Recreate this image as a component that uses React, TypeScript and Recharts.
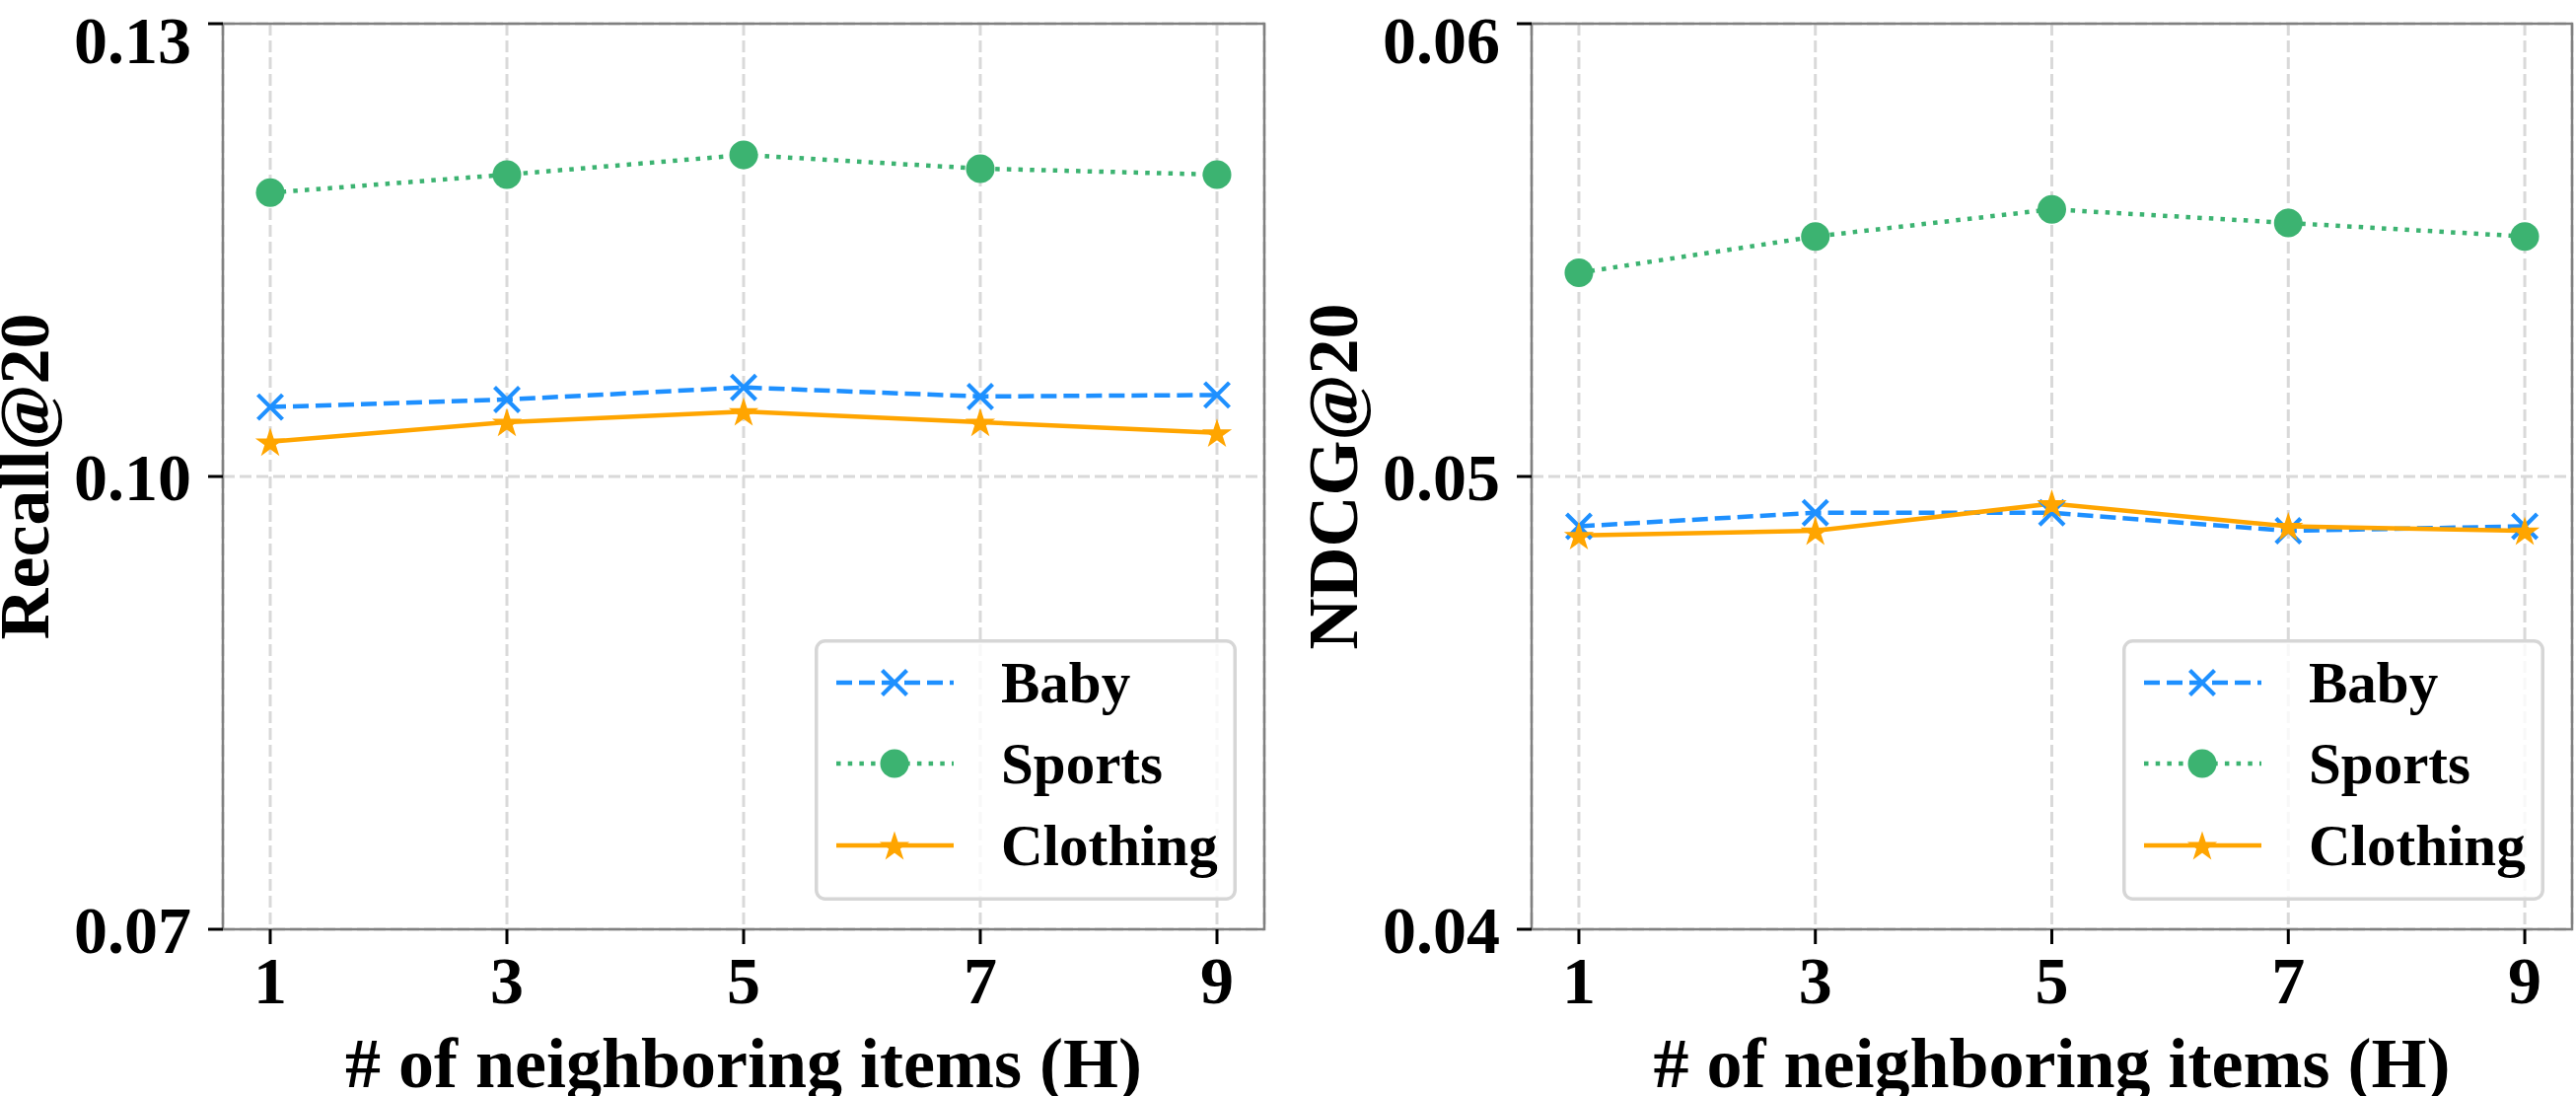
import { CartesianGrid, Legend, Line, LineChart, ReferenceArea, XAxis, YAxis } from 'recharts';

// neighbour count H on the x axis
const H_VALUES = [1, 3, 5, 7, 9];
const X_TICKS = [1, 3, 5, 7, 9];

const RECALL_BABY = [0.1046, 0.1051, 0.1059, 0.1053, 0.1054];
const RECALL_SPORTS = [0.1188, 0.12, 0.1213, 0.1204, 0.12];
const RECALL_CLOTHING = [0.1023, 0.1036, 0.1043, 0.1036, 0.1029];
const RECALL_TICKS = [0.07, 0.1, 0.13];

const NDCG_BABY = [0.0489, 0.0492, 0.0492, 0.0488, 0.0489];
const NDCG_SPORTS = [0.0545, 0.0553, 0.0559, 0.0556, 0.0553];
const NDCG_CLOTHING = [0.0487, 0.0488, 0.0494, 0.0489, 0.0488];
const NDCG_TICKS = [0.04, 0.05, 0.06];

const FONT = '"Liberation Serif", "Times New Roman", serif';
const BLUE = '#1E90FF';
const GREEN = '#3CB371';
const ORANGE = '#FFA500';
const SPINE = '#808080';
const LINE_W = 4.5;

const recallData = H_VALUES.map((h, i) => ({
  h,
  baby: RECALL_BABY[i],
  sports: RECALL_SPORTS[i],
  clothing: RECALL_CLOTHING[i]
}));

const ndcgData = H_VALUES.map((h, i) => ({
  h,
  baby: NDCG_BABY[i],
  sports: NDCG_SPORTS[i],
  clothing: NDCG_CLOTHING[i]
}));

const starPath = (cx: number, cy: number, R: number) => {
  const r = R * 0.382;
  let d = '';
  for (let i = 0; i < 10; i++) {
    const a = ((-90 + i * 36) * Math.PI) / 180;
    const rad = i % 2 === 0 ? R : r;
    d += `${i === 0 ? 'M' : 'L'}${cx + rad * Math.cos(a)},${cy + rad * Math.sin(a)}`;
  }
  return d + 'Z';
};

const crossPath = (cx: number, cy: number, s: number) =>
  `M${cx - s},${cy - s}L${cx + s},${cy + s}M${cx - s},${cy + s}L${cx + s},${cy - s}`;

// marker shapes
const CrossDot = (props: any) => (
  <path key={`x-${props.index}`} d={crossPath(props.cx, props.cy, 12.5)} stroke={BLUE} strokeWidth={4.2} fill="none" />
);
const CircleDot = (props: any) => (
  <circle key={`o-${props.index}`} cx={props.cx} cy={props.cy} r={14.5} fill={GREEN} />
);
const StarDot = (props: any) => (
  <path key={`s-${props.index}`} d={starPath(props.cx, props.cy + 1.5, 13.5)} fill={ORANGE} stroke={ORANGE} strokeWidth={1.5} />
);

const SERIES = [
  { key: 'baby', name: 'Baby', color: BLUE, dash: '16 7' },
  { key: 'sports', name: 'Sports', color: GREEN, dash: '4.5 7.2' },
  { key: 'clothing', name: 'Clothing', color: ORANGE, dash: undefined }
];

const LegendBox = () => {
  const rows = [44, 126, 209];
  return (
    <svg width={428} height={265} style={{ display: 'block' }}>
      <rect x={1.75} y={1.75} width={424.5} height={261.5} rx={9} fill="rgba(255,255,255,0.8)" stroke="#d6d6d6" strokeWidth={3.5} />
      {SERIES.map((s, i) => {
        const y = rows[i];
        return (
          <g key={s.key}>
            <line x1={22} x2={141} y1={y} y2={y} stroke={s.color} strokeWidth={LINE_W} strokeDasharray={s.dash} />
            {s.key === 'baby' && <path d={crossPath(81, y, 12.5)} stroke={BLUE} strokeWidth={4.2} fill="none" />}
            {s.key === 'sports' && <circle cx={81} cy={y} r={14.5} fill={GREEN} />}
            {s.key === 'clothing' && <path d={starPath(81, y + 1.5, 13.5)} fill={ORANGE} stroke={ORANGE} strokeWidth={1.5} />}
            <text x={189} y={y + 20} fontFamily={FONT} fontWeight={700} fontSize={59} fill="#000">
              {s.name}
            </text>
          </g>
        );
      })}
    </svg>
  );
};

interface PanelProps {
  data: { h: number; baby: number; sports: number; clothing: number }[];
  yTicks: number[];
  yLabel: string;
  plotLeft: number;
  rightMargin: number;
}

function Panel({ data, yTicks, yLabel, plotLeft, rightMargin }: PanelProps) {
  const width = 1306;
  const plotRight = width - rightMargin;
  const yMin = yTicks[0];
  const yMax = yTicks[yTicks.length - 1];
  const tickStyle = { fill: '#000', fontSize: 68, fontWeight: 700, fontFamily: FONT };

  return (
    <LineChart width={width} height={1111} data={data} margin={{ top: 24, right: rightMargin, bottom: 0, left: 0 }}>
      <CartesianGrid stroke="#d9d9d9" strokeWidth={3} strokeDasharray="12 5" />
      <XAxis
        dataKey="h"
        type="number"
        domain={[0.6, 9.4]}
        ticks={X_TICKS}
        height={169}
        axisLine={false}
        tickLine={{ stroke: '#000', strokeWidth: 3 }}
        tickSize={15}
        tickMargin={12}
        tick={tickStyle}
        label={{
          content: ({ viewBox }: any) => (
            <text
              x={viewBox.x + viewBox.width / 2}
              y={viewBox.y + 160}
              textAnchor="middle"
              fontFamily={FONT}
              fontWeight={700}
              fontSize={72}
              fill="#000"
            >
              # of neighboring items (H)
            </text>
          )
        }}
      />
      <YAxis
        type="number"
        domain={[yMin, yMax]}
        ticks={yTicks}
        width={plotLeft}
        axisLine={false}
        tickLine={{ stroke: '#000', strokeWidth: 3 }}
        tickSize={15}
        tickMargin={17}
        tick={tickStyle}
        tickFormatter={(v: number) => v.toFixed(2)}
        label={{
          content: ({ viewBox }: any) => {
            const x = viewBox.x + viewBox.width - 177;
            const y = viewBox.y + viewBox.height / 2;
            return (
              <text
                x={x}
                y={y}
                transform={`rotate(-90 ${x} ${y})`}
                textAnchor="middle"
                fontFamily={FONT}
                fontWeight={700}
                fontSize={72}
                fill="#000"
              >
                {yLabel}
              </text>
            );
          }
        }}
      />
      <ReferenceArea x1={0.6} x2={9.4} y1={yMin} y2={yMax} fill="none" stroke={SPINE} strokeWidth={2.5} />
      <Line dataKey="baby" stroke={BLUE} strokeWidth={LINE_W} strokeDasharray="16 7" dot={CrossDot} activeDot={false} isAnimationActive={false} />
      <Line dataKey="sports" stroke={GREEN} strokeWidth={LINE_W} strokeDasharray="4.5 7.2" dot={CircleDot} activeDot={false} isAnimationActive={false} />
      <Line dataKey="clothing" stroke={ORANGE} strokeWidth={LINE_W} dot={StarDot} activeDot={false} isAnimationActive={false} />
      <Legend
        layout="horizontal"
        verticalAlign="middle"
        align="center"
        content={() => <LegendBox />}
        wrapperStyle={{ left: plotRight - 28 - 428, top: 648, width: 428, height: 265 }}
      />
    </LineChart>
  );
}

export default function App() {
  return (
    <div style={{ position: 'absolute', left: 0, top: 0, width: 2612, height: 1111, background: '#fff' }}>
      <div style={{ position: 'absolute', left: 0, top: 0 }}>
        <Panel data={recallData} yTicks={RECALL_TICKS} yLabel="Recall@20" plotLeft={226} rightMargin={24} />
      </div>
      <div style={{ position: 'absolute', left: 1306, top: 0 }}>
        <Panel data={ndcgData} yTicks={NDCG_TICKS} yLabel="NDCG@20" plotLeft={247} rightMargin={4} />
      </div>
    </div>
  );
}
